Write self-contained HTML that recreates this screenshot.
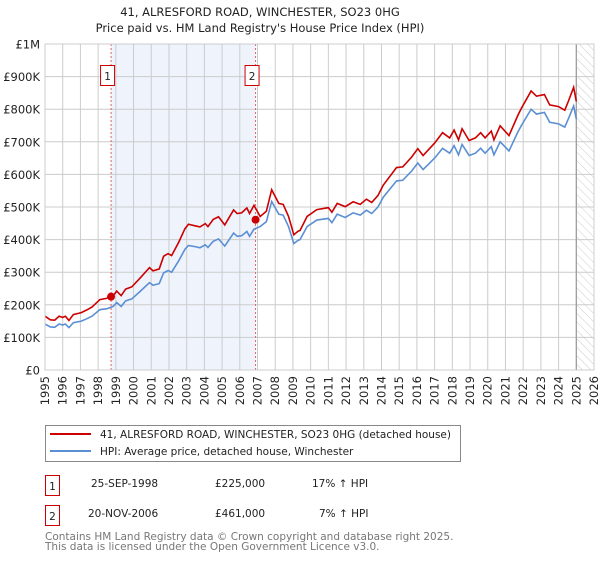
<!DOCTYPE html>
<html><head><meta charset="utf-8"><style>
body{margin:0;background:#fff;}
svg text{font-family:"DejaVu Sans","Liberation Sans",sans-serif;}
</style></head><body>
<svg width="600" height="560" viewBox="0 0 600 560">
<defs><pattern id="hatch" width="6" height="6" patternUnits="userSpaceOnUse" patternTransform="rotate(-45)"><line x1="0" y1="0" x2="0" y2="6" stroke="#ccc" stroke-width="1"/></pattern></defs>
<text x="260" y="16" text-anchor="middle" font-size="11.5" fill="#222">41, ALRESFORD ROAD, WINCHESTER, SO23 0HG</text>
<text x="260" y="32" text-anchor="middle" font-size="11.5" fill="#222">Price paid vs. HM Land Registry's House Price Index (HPI)</text>
<g id="plot"></g>
<g>
<rect x="45.5" y="425.5" width="415" height="36" fill="#fff" stroke="#888"/>
<line x1="50" y1="434" x2="91" y2="434" stroke="#cc0000" stroke-width="2"/>
<text x="100" y="438" font-size="10.5" fill="#222">41, ALRESFORD ROAD, WINCHESTER, SO23 0HG (detached house)</text>
<line x1="50" y1="451" x2="91" y2="451" stroke="#5b8fd4" stroke-width="2"/>
<text x="100" y="455" font-size="10.5" fill="#222">HPI: Average price, detached house, Winchester</text>
</g>
<g font-size="10.5" fill="#222">
<rect x="45.5" y="475.5" width="14" height="20" fill="#fff" stroke="#cc0000"/><text x="52.5" y="490" text-anchor="middle">1</text>
<text x="91" y="487">25-SEP-1998</text><text x="215" y="487">£225,000</text><text x="312" y="487">17% ↑ HPI</text>
<rect x="45.5" y="505.5" width="14" height="20" fill="#fff" stroke="#cc0000"/><text x="52.5" y="520" text-anchor="middle">2</text>
<text x="88" y="517">20-NOV-2006</text><text x="215" y="517">£461,000</text><text x="319" y="517">7% ↑ HPI</text>
</g>
<text x="45" y="540" font-size="10.5" fill="#777">Contains HM Land Registry data © Crown copyright and database right 2025.</text>
<text x="45" y="550" font-size="10.5" fill="#777">This data is licensed under the Open Government Licence v3.0.</text>
</svg>
<script>
const dates=[1995.0,1995.3,1995.55,1995.8,1996.0,1996.15,1996.35,1996.6,1997.05,1997.35,1997.65,1998.1,1998.5,1998.85,1999.05,1999.3,1999.55,1999.9,2000.35,2000.9,2001.1,2001.45,2001.7,2001.95,2002.15,2002.55,2002.9,2003.1,2003.5,2003.75,2004.05,2004.2,2004.5,2004.8,2005.15,2005.65,2005.85,2006.1,2006.4,2006.55,2006.8,2007.15,2007.5,2007.8,2008.2,2008.45,2008.75,2009.05,2009.3,2009.4,2009.8,2010.35,2011.0,2011.2,2011.5,2011.95,2012.4,2012.8,2013.15,2013.45,2013.8,2014.1,2014.85,2015.2,2015.7,2016.05,2016.35,2017.0,2017.45,2017.85,2018.1,2018.35,2018.55,2018.95,2019.3,2019.6,2019.85,2020.2,2020.35,2020.7,2021.2,2021.7,2021.9,2022.45,2022.75,2023.2,2023.5,2024.0,2024.35,2024.55,2024.85,2025.0];
const hpi=[141,132,131,141,138,141,130,145,150,157,165,185,188,195,207,195,212,218,240,268,260,265,298,305,300,335,370,382,378,375,384,376,395,402,380,420,410,412,425,410,432,440,455,517,478,475,440,388,398,400,440,460,465,452,478,468,482,475,490,480,500,530,580,582,610,635,615,650,680,665,688,660,692,658,665,680,665,685,660,700,672,730,750,800,785,790,760,755,745,770,810,770];
const price=[165,154,153,165,161,165,152,170,176,184,193,216,220,228,242,228,248,255,281,314,304,310,349,357,351,392,433,447,442,439,449,440,462,470,445,491,480,482,497,480,505,471,487,553,511,508,471,415,426,428,471,492,498,484,511,501,516,508,524,514,535,567,621,623,653,679,658,696,728,712,736,706,740,704,712,728,712,733,706,749,719,781,803,856,840,845,813,808,797,824,867,824];
const yTicks=[0,100,200,300,400,500,600,700,800,900,1000];
const yTickLabels=["£0","£100K","£200K","£300K","£400K","£500K","£600K","£700K","£800K","£900K","£1M"];
const xYears=[1995,1996,1997,1998,1999,2000,2001,2002,2003,2004,2005,2006,2007,2008,2009,2010,2011,2012,2013,2014,2015,2016,2017,2018,2019,2020,2021,2022,2023,2024,2025,2026];
const saleDates=[1998.73,2006.89];
const salePrices=[225,461];
const saleLabels=["1","2"];
const X0=45,X1=594,Y0=370,Y1=44;
const xs=t=>X0+(t-1995)/(2026-1995)*(X1-X0);
const ys=v=>Y0-v/1000*(Y0-Y1);
const NS="http://www.w3.org/2000/svg";
const g=document.getElementById('plot');
function mk(tag,attrs,parent){const e=document.createElementNS(NS,tag);for(const k in attrs)e.setAttribute(k,attrs[k]);(parent||g).appendChild(e);return e;}
let e;
e=mk('rect',{x:xs(saleDates[0]),y:Y1,width:xs(saleDates[1])-xs(saleDates[0]),height:Y0-Y1,fill:'#eef3fc'});


e=mk('rect',{x:xs(2025),y:Y1,width:X1-xs(2025),height:Y0-Y1,fill:'url(#hatch)'});


xYears.forEach(yr=>{
 e=mk('line',{x1:xs(yr),x2:xs(yr),y1:Y1,y2:Y0,stroke:'#ccc','stroke-width':1});
 
 
 e=mk('text',{x:0,y:0,transform:`translate(${xs(yr)+4},376) rotate(-90)`,'text-anchor':'end','font-size':11.5,fill:'#222'});
 e.textContent=yr;
 
 
});
yTicks.forEach((v,i)=>{
 e=mk('line',{x1:X0,x2:X1,y1:ys(v),y2:ys(v),stroke:'#ccc','stroke-width':1});
 
 
 e=mk('text',{x:40,y:ys(v)+4.5,'text-anchor':'end','font-size':11.5,fill:'#222'});
 e.textContent=yTickLabels[i];
 
 
});
e=mk('line',{x1:xs(2025),x2:xs(2025),y1:Y1,y2:Y0,stroke:'#999','stroke-width':1.2});


saleDates.forEach((d,i)=>{
 e=mk('line',{x1:xs(d),x2:xs(d),y1:Y1,y2:Y0,stroke:'#e06060','stroke-width':1,'stroke-dasharray':'2,2'});
 
 
});
e=mk('polyline',{points:dates.map((d,i)=>xs(d)+','+ys(hpi[i])).join(' '),fill:'none',stroke:'#5b8fd4','stroke-width':1.6});


e=mk('polyline',{points:dates.map((d,i)=>xs(d)+','+ys(price[i])).join(' '),fill:'none',stroke:'#cc0000','stroke-width':1.6});


saleDates.forEach((d,i)=>{
 e=mk('circle',{cx:xs(d),cy:ys(salePrices[i]),r:4,fill:'#cc0000'});
 
 
 e=mk('rect',{x:xs(d)-10.5,y:65.5,width:14,height:20,fill:'#fff',stroke:'#cc0000'});
 
 
 e=mk('text',{x:xs(d)-3.5,y:80,'text-anchor':'middle','font-size':10.5,fill:'#222'});
 e.textContent=saleLabels[i];
 
 
});
e=mk('rect',{x:X0,y:Y1,width:X1-X0,height:Y0-Y1,fill:'none',stroke:'#ccc'});


</script>
</body></html>
